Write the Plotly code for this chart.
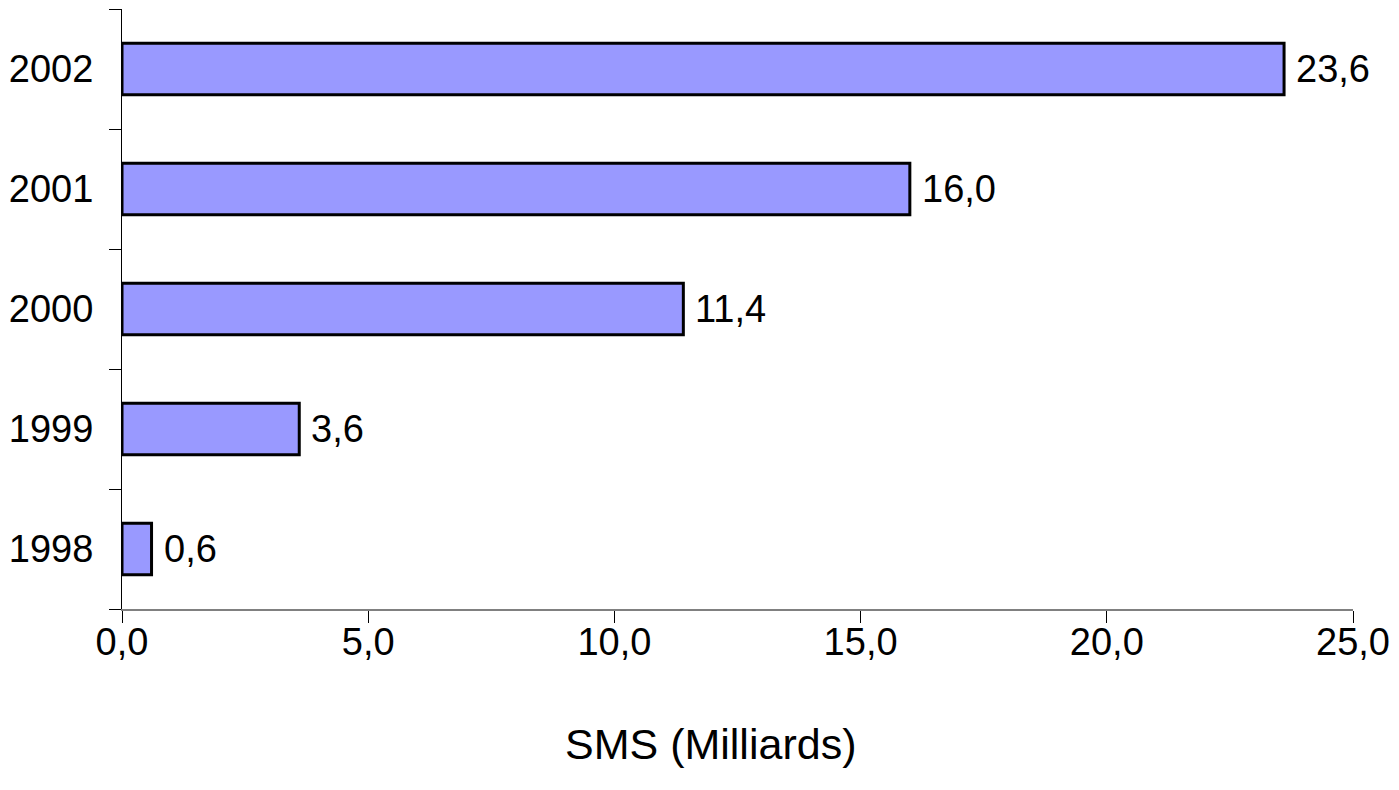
import plotly.graph_objects as go

years = ["1998", "1999", "2000", "2001", "2002"]
sms_billions = [0.6, 3.6, 11.4, 16.0, 23.6]
x_ticks = [0, 5, 10, 15, 20, 25]

FONT = "Liberation Sans, Arial, sans-serif"
SIZE = 38


def fr(v):
    return f"{v:.1f}".replace(".", ",")


fig = go.Figure(
    go.Bar(
        x=sms_billions,
        y=years,
        orientation="h",
        width=0.43,
        marker=dict(color="#9999FF", line=dict(color="black", width=3)),
        hoverinfo="x+y",
    )
)

# value labels to the right of each bar (y given as category index)
annotations = [
    dict(
        x=v,
        y=i,
        xref="x",
        yref="y",
        text=fr(v),
        xanchor="left",
        yanchor="middle",
        xshift=10,
        showarrow=False,
        font=dict(family=FONT, size=SIZE, color="black"),
    )
    for i, v in enumerate(sms_billions)
]

annotations.append(
    dict(
        text="SMS (Milliards)",
        xref="paper",
        yref="paper",
        x=(713 - 122) / 1236,
        y=-(744 - 609) / 600,
        xanchor="center",
        yanchor="middle",
        showarrow=False,
        font=dict(family=FONT, size=43, color="black"),
    )
)

fig.update_layout(
    width=1399,
    height=790,
    margin=dict(l=122, r=41, t=9, b=181),
    paper_bgcolor="white",
    plot_bgcolor="white",
    separators=", ",
    showlegend=False,
    font=dict(family=FONT, size=SIZE, color="black"),
    xaxis=dict(
        range=[0, 25],
        tickvals=x_ticks,
        tickformat=".1f",
        showgrid=False,
        zeroline=False,
        showline=True,
        linecolor="#808080",
        linewidth=2,
        ticks="outside",
        ticklen=12,
        tickcolor="black",
        tickwidth=1,
        ticklabelstandoff=-14,
        tickfont=dict(family=FONT, size=SIZE),
    ),
    yaxis=dict(
        type="category",
        categoryorder="array",
        categoryarray=years,
        range=[-0.5, 4.5],
        showgrid=False,
        zeroline=False,
        showline=True,
        linecolor="black",
        linewidth=1,
        ticks="outside",
        tickson="boundaries",
        ticklen=12,
        tickcolor="black",
        tickwidth=1,
        ticklabelstandoff=20,
        tickfont=dict(family=FONT, size=SIZE),
    ),
    annotations=annotations,
)

fig.write_html("out.html")
